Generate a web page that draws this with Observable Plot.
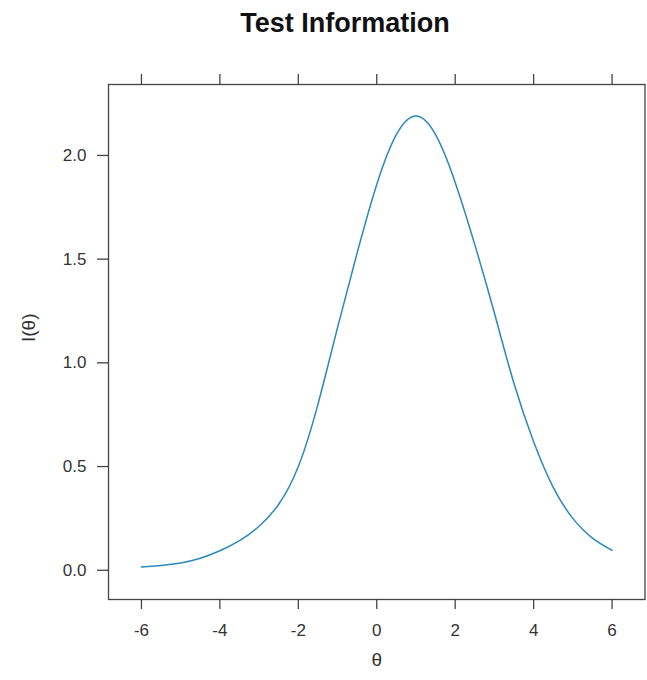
<!DOCTYPE html>
<html>
<head>
<meta charset="utf-8">
<script src="https://cdn.jsdelivr.net/npm/d3@7"></script>
<script src="https://cdn.jsdelivr.net/npm/@observablehq/plot@0.6"></script>
<style>
  html, body { margin: 0; padding: 0; background: #fff; overflow: hidden; }
  #wrap { position: relative; width: 647px; height: 680px; }
  #title { position: absolute; top: 10px; left: 0; width: 690px; text-align: center;
           font: bold 27px "Liberation Sans", Arial, sans-serif; line-height: 27px; color: #111; }
  #chart { position: absolute; top: 0; left: 0; }
</style>
</head>
<body>
<div id="wrap">
  <div id="chart"></div>
  <div id="title">Test Information</div>
</div>
<script>
const theta = [-6, -5.5, -5, -4.5, -4, -3.5, -3, -2.5, -2, -1.5, -1, -0.5, 0, 0.5, 1, 1.5, 2, 2.5, 3, 3.5, 4, 4.5, 5, 5.5, 6];
const info  = [0.016, 0.023, 0.035, 0.058, 0.094, 0.143, 0.212, 0.318, 0.50, 0.80, 1.17, 1.53, 1.86, 2.10, 2.19, 2.10, 1.87, 1.57, 1.24, 0.90, 0.62, 0.40, 0.25, 0.155, 0.096];
const xTicks = [-6, -4, -2, 0, 2, 4, 6];
const yTicks = [0, 0.5, 1.0, 1.5, 2.0];
const xLabel = "θ";
const yLabel = "I(θ)";

const data = theta.map((t, i) => ({theta: t, info: info[i]}));

const chart = Plot.plot({
  width: 647,
  height: 680,
  marginLeft: 108,
  marginRight: 2.5,
  marginTop: 84,
  marginBottom: 81,
  style: {fontFamily: '"Liberation Sans", Arial, sans-serif', fontSize: "17px", color: "#333", background: "#fff"},
  x: {domain: [-6.84, 6.84]},
  y: {domain: [-0.141, 2.342]},
  marks: [
    Plot.frame({stroke: "#444", strokeWidth: 1.3}),
    Plot.axisX({anchor: "bottom", ticks: xTicks, tickSize: 10, tickPadding: 14, tickFormat: d => String(d), label: null, stroke: "#444", strokeWidth: 1.3, fill: "#333"}),
    Plot.axisX({anchor: "top", ticks: xTicks, tickSize: 11, tickFormat: () => "", label: null, stroke: "#444", strokeWidth: 1.3}),
    Plot.axisY({anchor: "left", ticks: yTicks, tickSize: 11, tickPadding: 11, tickFormat: d => d.toFixed(1), label: null, stroke: "#444", strokeWidth: 1.3, fill: "#333"}),
    Plot.line(data, {x: "theta", y: "info", stroke: "#2a88bd", strokeWidth: 1.5, curve: "natural"}),
    Plot.text([xLabel], {frameAnchor: "bottom", dy: 66, fontSize: 19, fill: "#333"}),
    Plot.text([yLabel], {frameAnchor: "left", dx: -80, rotate: -90, fontSize: 19, fill: "#333"})
  ]
});
document.getElementById("chart").appendChild(chart);
</script>
</body>
</html>
